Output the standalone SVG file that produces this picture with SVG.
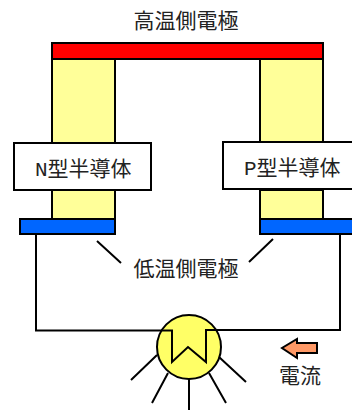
<svg xmlns="http://www.w3.org/2000/svg" width="352" height="410" viewBox="0 0 352 410">
<style>
.s{stroke:#000;stroke-width:2}
.l{fill:none;stroke:#000;stroke-width:2}
.t{font-family:"Noto Sans CJK JP","DejaVu Sans",sans-serif;font-size:21px;fill:#222;text-anchor:middle}
.m{font-family:"Liberation Mono","Noto Sans CJK JP",monospace;font-size:21px;fill:#222}
</style>
<rect width="352" height="410" fill="#fff"/>
<g id="legs">
<rect id="leg-n" class="s" x="52" y="59" width="63" height="137" fill="#ffff99"/>
<rect id="leg-p" class="s" x="260" y="59" width="63" height="137" fill="#ffff99"/>
<rect id="leg-n2" class="s" x="52" y="190" width="63" height="29" fill="#ffff99"/>
<rect id="leg-p2" class="s" x="260" y="190" width="63" height="29" fill="#ffff99"/>
</g>
<g id="hot-electrode"><rect class="s" x="52" y="43" width="271" height="16" fill="#ff0000"/>
<text class="t" x="186" y="28">高温側電極</text></g>
<g id="n-type"><rect class="s" x="14" y="143" width="137" height="47" fill="#fff"/>
<text class="m" x="35" y="176">N型半導体</text></g>
<g id="p-type"><rect class="s" x="223" y="142" width="137" height="47" fill="#fff"/>
<text class="m" x="244" y="175">P型半導体</text></g>
<g id="cold-n"><rect class="s" x="20" y="219" width="95" height="15" fill="#0066ff"/></g>
<g id="cold-p"><rect class="s" x="260" y="219" width="95" height="15" fill="#0066ff"/></g>
<g id="connectors">
<path class="l" d="M36 234V330.500H160M216 330H340V234"/>
<path class="l" d="M97 241L121 263M273 239L249 262"/>
<path class="l" d="M157 355L131 380M168 373L152 403M189 379V410M209 373L226 403M219 357L246 382"/>
</g>
<g id="lamp"><circle class="s" cx="189" cy="347" r="32" fill="#ffff66"/>
<path class="l" d="M160 330.500H172V362L188 347L206 362V330H216"/></g>
<g id="cold-label"><text class="t" x="186" y="276">低温側電極</text></g>
<g id="current"><path d="M317 343H297V339L282 348L297 358V353H317Z" fill="#ff9966" stroke="#000" stroke-width="2"/>
<text class="t" x="300" y="383">電流</text></g>
</svg>
